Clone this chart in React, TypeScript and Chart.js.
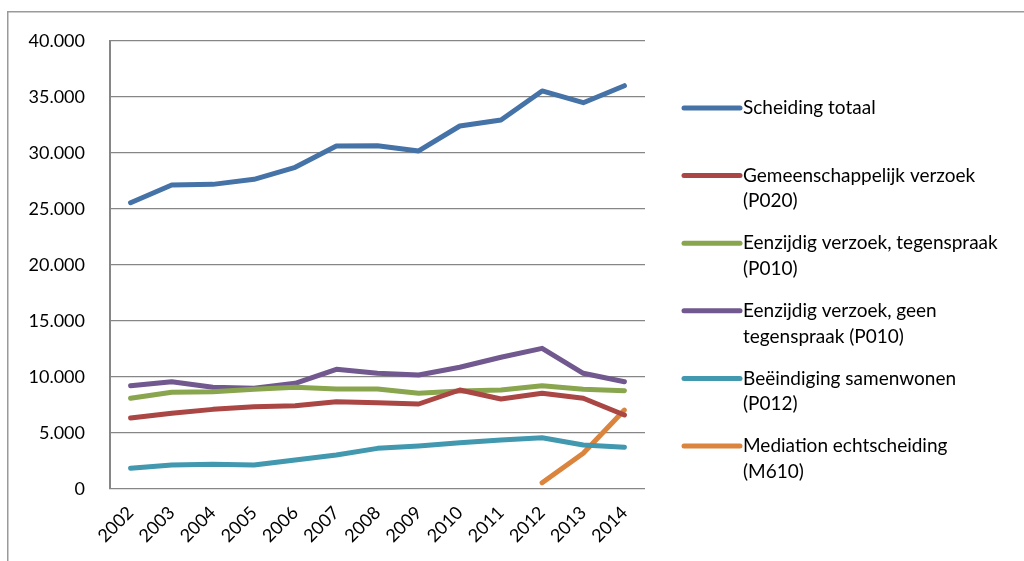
import React, { useEffect, useRef } from "react";
import { Chart, registerables } from "chart.js";

Chart.register(...registerables);

const years = ["2002", "2003", "2004", "2005", "2006", "2007", "2008", "2009", "2010", "2011", "2012", "2013", "2014"];

const scheidingTotaal = [25560, 27140, 27200, 27650, 28720, 30620, 30650, 30180, 32410, 32950, 35540, 34490, 36010];
const gemeenschappelijk = [6340, 6760, 7110, 7350, 7440, 7800, 7710, 7590, 8840, 8040, 8540, 8100, 6610];
const tegenspraak = [8100, 8630, 8690, 8900, 9080, 8930, 8930, 8540, 8750, 8840, 9220, 8900, 8780];
const geenTegenspraak = [9220, 9580, 9080, 8990, 9440, 10690, 10330, 10180, 10870, 11760, 12560, 10330, 9580];
const samenwonen = [1850, 2140, 2200, 2140, 2590, 3040, 3630, 3840, 4130, 4380, 4580, 3930, 3720];
const mediation = [null, null, null, null, null, null, null, null, null, null, 560, 3190, 7050];

const seriesNames: string[][] = [
  ["Scheiding totaal"],
  ["Gemeenschappelijk verzoek", "(P020)"],
  ["Eenzijdig verzoek, tegenspraak", "(P010)"],
  ["Eenzijdig verzoek, geen", "tegenspraak (P010)"],
  ["Beëindiging samenwonen", "(P012)"],
  ["Mediation echtscheiding", "(M610)"],
];
const seriesColors = ["#4572A7", "#AA4643", "#89A54E", "#71588F", "#4198AF", "#DB843D"];
const yTicks = [0, 5000, 10000, 15000, 20000, 25000, 30000, 35000, 40000];

const FONT = "Lato, 'Open Sans', sans-serif";

function fmt(v: number): string {
  return String(v).replace(/\B(?=(\d{3})+(?!\d))/g, ".");
}

const framePlugin = {
  id: "frame",
  beforeDraw(chart: any) {
    const ctx = chart.ctx;
    ctx.save();
    ctx.strokeStyle = "#9a9a9a";
    ctx.lineWidth = 1.5;
    ctx.beginPath();
    ctx.moveTo(7.75, 561);
    ctx.lineTo(7.75, 11.75);
    ctx.lineTo(1024, 11.75);
    ctx.stroke();
    ctx.restore();
  },
};

const legendPlugin = {
  id: "customLegend",
  afterDraw(chart: any) {
    const ctx = chart.ctx;
    const area = chart.chartArea;
    const x0 = area.right + 39;
    const x1 = area.right + 95;
    const tx = area.right + 98;
    const startY = 108;
    const step = 67.6;
    const lh = 25.6;
    ctx.save();
    ctx.font = `19px ${FONT}`;
    ctx.textBaseline = "middle";
    ctx.textAlign = "left";
    seriesNames.forEach((lines, i) => {
      const y = startY + i * step;
      ctx.strokeStyle = seriesColors[i];
      ctx.lineWidth = 5;
      ctx.lineCap = "round";
      ctx.beginPath();
      ctx.moveTo(x0, y);
      ctx.lineTo(x1, y);
      ctx.stroke();
      ctx.fillStyle = "#000";
      lines.forEach((t, j) => ctx.fillText(t, tx, y + j * lh));
    });
    ctx.restore();
  },
};

export default function App() {
  const ref = useRef<HTMLCanvasElement>(null);
  useEffect(() => {
    if (!ref.current) return;
    const data = [scheidingTotaal, gemeenschappelijk, tegenspraak, geenTegenspraak, samenwonen, mediation];
    const chart = new Chart(ref.current, {
      type: "line",
      data: {
        labels: years,
        datasets: data.map((d, i) => ({
          label: seriesNames[i].join(" "),
          data: d as any,
          borderColor: seriesColors[i],
          backgroundColor: seriesColors[i],
          borderWidth: 5,
          pointRadius: 0,
          tension: 0,
          borderCapStyle: "round" as const,
          borderJoinStyle: "round" as const,
          spanGaps: false,
        })),
      },
      options: {
        responsive: false,
        animation: false,
        devicePixelRatio: 1,
        layout: { padding: { left: 0, top: 41, right: 379, bottom: 0 } },
        plugins: { legend: { display: false }, tooltip: { enabled: false } },
        scales: {
          x: {
            offset: true,
            grid: { display: false, drawTicks: false },
            border: { display: false },
            ticks: {
              minRotation: 45,
              maxRotation: 45,
              color: "#000",
              padding: 13,
              font: { family: FONT, size: 18 },
            },
            afterFit(scale: any) {
              scale.height = 72;
            },
          },
          y: {
            min: 0,
            max: 40000,
            afterBuildTicks(scale: any) {
              scale.ticks = yTicks.map((v) => ({ value: v }));
            },
            grid: { color: "#868686", lineWidth: 1.2, drawTicks: false },
            border: { display: true, color: "#868686", width: 2 },
            ticks: {
              color: "#000",
              padding: 25,
              font: { family: FONT, size: 18 },
              callback: (v: any) => fmt(Number(v)),
            },
            afterFit(scale: any) {
              scale.width = 110;
            },
          },
        },
      },
      plugins: [framePlugin, legendPlugin],
    });
    return () => chart.destroy();
  }, []);
  return (
    <canvas
      ref={ref}
      width={1024}
      height={561}
      style={{ position: "absolute", left: 0, top: 0, width: 1024, height: 561, background: "#fff" }}
    />
  );
}
